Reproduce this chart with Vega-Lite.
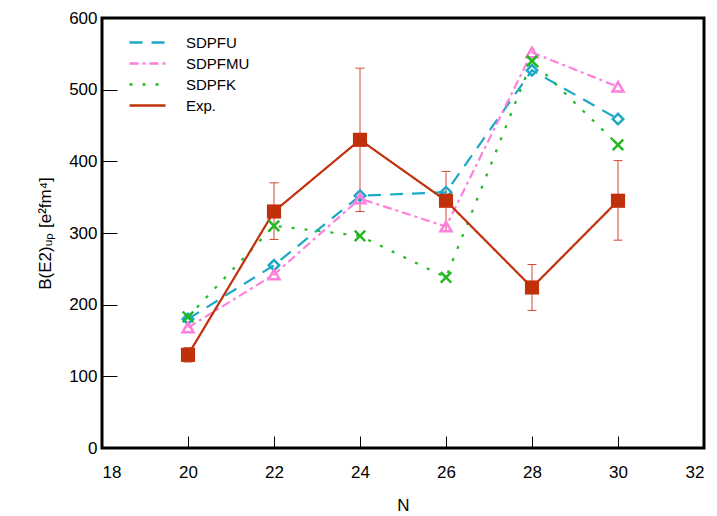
{
  "$schema": "https://vega.github.io/schema/vega-lite/v6.json",
  "width": 602,
  "height": 430,
  "autosize": {"type": "none"},
  "padding": {"left": 102, "top": 18, "right": 13, "bottom": 68},
  "background": "white",
  "config": {
    "font": "Liberation Sans",
    "view": {"stroke": "black", "strokeWidth": 3},
    "axis": {
      "grid": false,
      "labelFont": "Liberation Sans",
      "labelFontSize": 17,
      "labelColor": "black",
      "titleFont": "Liberation Sans",
      "titleFontSize": 17,
      "titleFontWeight": "normal",
      "titleColor": "black"
    }
  },
  "data": {
    "values": [
      {"N": 20, "model": "SDPFU", "B": 180},
      {"N": 22, "model": "SDPFU", "B": 255},
      {"N": 24, "model": "SDPFU", "B": 352},
      {"N": 26, "model": "SDPFU", "B": 357},
      {"N": 28, "model": "SDPFU", "B": 527},
      {"N": 30, "model": "SDPFU", "B": 459},
      {"N": 20, "model": "SDPFMU", "B": 168},
      {"N": 22, "model": "SDPFMU", "B": 242},
      {"N": 24, "model": "SDPFMU", "B": 348},
      {"N": 26, "model": "SDPFMU", "B": 309},
      {"N": 28, "model": "SDPFMU", "B": 552},
      {"N": 30, "model": "SDPFMU", "B": 504},
      {"N": 20, "model": "SDPFK", "B": 183},
      {"N": 22, "model": "SDPFK", "B": 310},
      {"N": 24, "model": "SDPFK", "B": 296},
      {"N": 26, "model": "SDPFK", "B": 238},
      {"N": 28, "model": "SDPFK", "B": 540},
      {"N": 30, "model": "SDPFK", "B": 423},
      {"N": 20, "model": "Exp.", "B": 130, "lo": 120, "hi": 140},
      {"N": 22, "model": "Exp.", "B": 330, "lo": 291, "hi": 370},
      {"N": 24, "model": "Exp.", "B": 430, "lo": 330, "hi": 530},
      {"N": 26, "model": "Exp.", "B": 345, "lo": 303, "hi": 386},
      {"N": 28, "model": "Exp.", "B": 224, "lo": 192, "hi": 256},
      {"N": 30, "model": "Exp.", "B": 345, "lo": 290, "hi": 401}
    ]
  },
  "encoding": {
    "x": {
      "field": "N",
      "type": "quantitative",
      "scale": {"domain": [18, 32], "nice": false, "zero": false},
      "axis": {
        "title": "N",
        "values": [18, 20, 22, 24, 26, 28, 30, 32],
        "domain": false,
        "ticks": true,
        "tickColor": "black",
        "tickWidth": 1,
        "tickSize": -12,
        "labelPadding": 28,
        "titlePadding": 17,
        "zindex": 2
      }
    }
  },
  "layer": [
    {
      "transform": [{"filter": "datum.model === 'Exp.'"}],
      "mark": {"type": "rule", "color": "#cc4a33", "strokeWidth": 1},
      "encoding": {
        "y": {"field": "lo", "type": "quantitative"},
        "y2": {"field": "hi"}
      }
    },
    {
      "transform": [{"filter": "datum.model === 'Exp.'"}],
      "mark": {"type": "tick", "orient": "horizontal", "color": "#cc4a33", "size": 9, "thickness": 1, "opacity": 1},
      "encoding": {"y": {"field": "lo", "type": "quantitative"}}
    },
    {
      "transform": [{"filter": "datum.model === 'Exp.'"}],
      "mark": {"type": "tick", "orient": "horizontal", "color": "#cc4a33", "size": 9, "thickness": 1, "opacity": 1},
      "encoding": {"y": {"field": "hi", "type": "quantitative"}}
    },
    {
      "mark": {"type": "line", "strokeWidth": 2.2},
      "encoding": {
        "y": {
          "field": "B",
          "type": "quantitative",
          "scale": {"domain": [0, 600], "nice": false},
          "axis": {
            "title": "B(E2)ᵤₚ [e²fm⁴]",
            "values": [0, 50, 100, 150, 200, 250, 300, 350, 400, 450, 500, 550, 600],
            "labelExpr": "datum.value % 100 === 0 ? datum.label : ''",
            "domain": false,
            "ticks": true,
            "tickColor": "black",
            "tickWidth": 1,
            "tickSize": {"condition": {"test": "datum.value % 100 === 0", "value": -15}, "value": -7},
            "labelPadding": 20,
            "titlePadding": 14,
            "zindex": 2
          }
        },
        "color": {
          "field": "model",
          "type": "nominal",
          "scale": {
            "domain": ["SDPFU", "SDPFMU", "SDPFK", "Exp."],
            "range": ["#1da8c6", "#ff7fdc", "#22b822", "#c0300a"]
          },
          "legend": {
            "title": null,
            "orient": "none",
            "legendX": 38,
            "legendY": 17,
            "symbolType": "M-3.6,0H3.6",
            "symbolSize": 100,
            "symbolStrokeWidth": 2.5,
            "labelFont": "Liberation Sans",
            "labelFontSize": 15,
            "labelColor": "black",
            "labelOffset": 31,
            "rowPadding": 5,
            "padding": 0
          }
        },
        "strokeDash": {
          "field": "model",
          "type": "nominal",
          "scale": {
            "domain": ["SDPFU", "SDPFMU", "SDPFK", "Exp."],
            "range": [[13, 9], [9, 4, 3, 4], [3, 10], [1, 0]]
          },
          "legend": {
            "title": null,
            "orient": "none",
            "legendX": 38,
            "legendY": 17,
            "symbolType": "M-3.6,0H3.6",
            "symbolSize": 100,
            "symbolStrokeWidth": 2.5,
            "labelFont": "Liberation Sans",
            "labelFontSize": 15,
            "labelColor": "black",
            "labelOffset": 31,
            "rowPadding": 5,
            "padding": 0
          }
        }
      }
    },
    {
      "transform": [{"filter": "datum.model === 'SDPFU'"}],
      "mark": {"type": "point", "shape": "diamond", "filled": false, "color": "#1da8c6", "strokeWidth": 2.5, "size": 110, "opacity": 1},
      "encoding": {"y": {"field": "B", "type": "quantitative"}}
    },
    {
      "transform": [{"filter": "datum.model === 'SDPFMU'"}],
      "mark": {"type": "point", "shape": "triangle-up", "filled": false, "color": "#ff7fdc", "strokeWidth": 2.5, "size": 120, "opacity": 1},
      "encoding": {"y": {"field": "B", "type": "quantitative"}}
    },
    {
      "transform": [{"filter": "datum.model === 'SDPFK'"}],
      "mark": {"type": "point", "shape": "M-1,-1L1,1M1,-1L-1,1", "filled": false, "color": "#22b822", "strokeWidth": 2.5, "size": 110, "opacity": 1},
      "encoding": {"y": {"field": "B", "type": "quantitative"}}
    },
    {
      "transform": [{"filter": "datum.model === 'Exp.'"}],
      "mark": {"type": "square", "filled": true, "color": "#c0300a", "size": 200, "opacity": 1},
      "encoding": {"y": {"field": "B", "type": "quantitative"}}
    }
  ]
}
